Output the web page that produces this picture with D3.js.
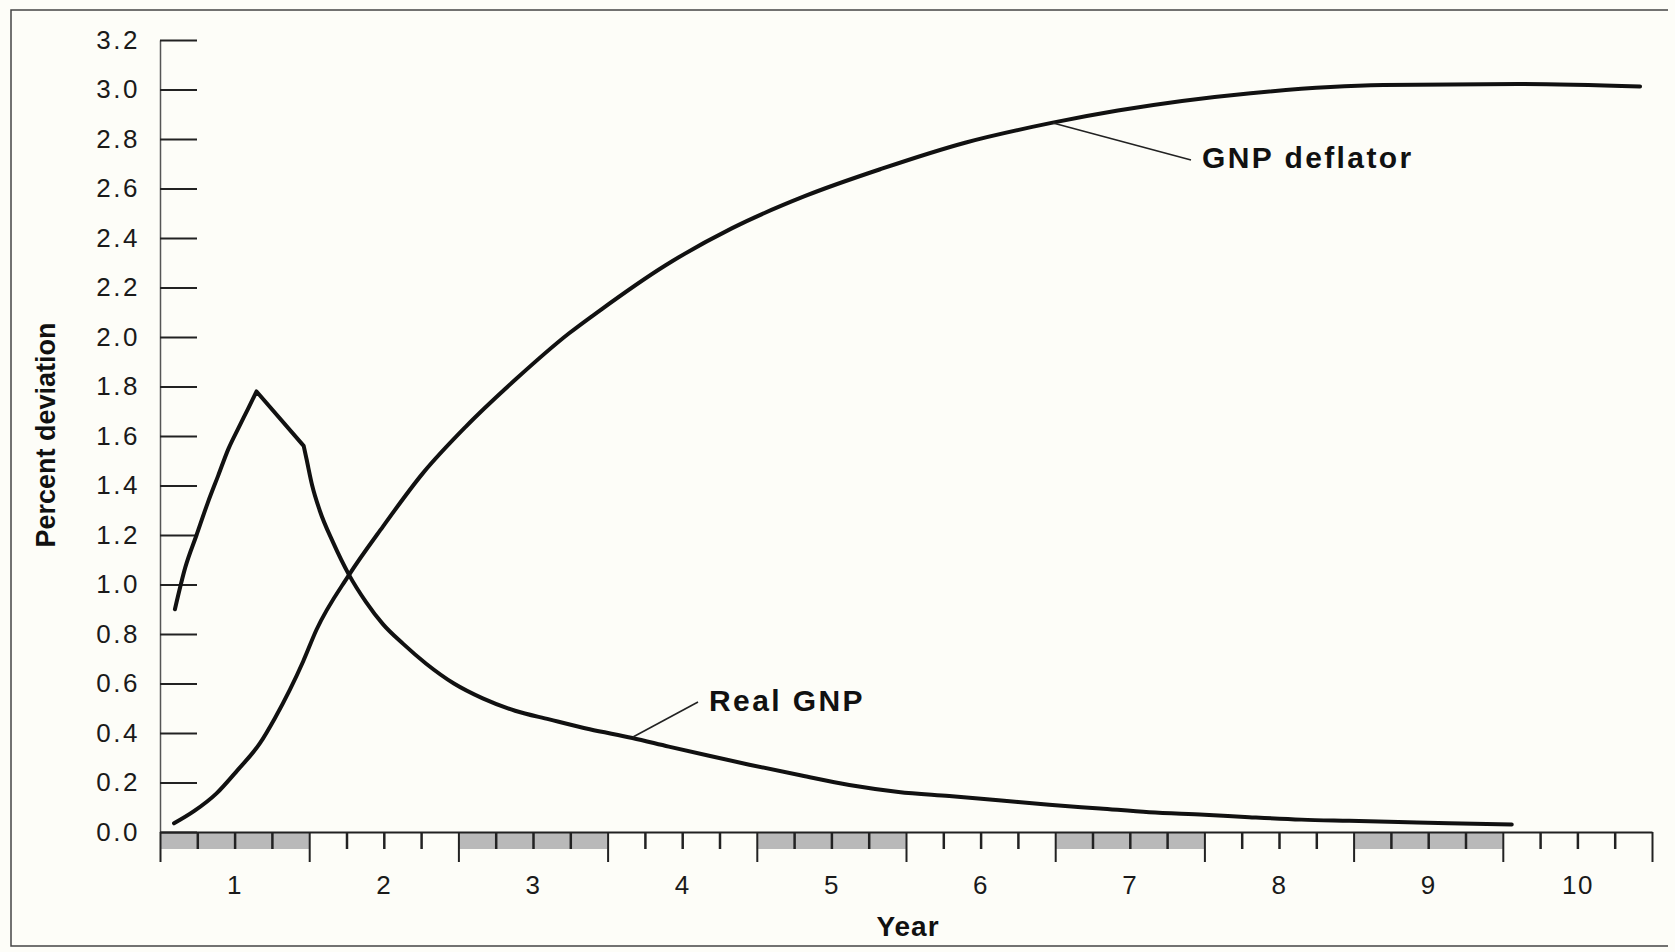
<!DOCTYPE html>
<html>
<head>
    <meta charset="UTF-8">
    <title>Real GNP and GNP deflator</title>
    <script src="https://d3js.org/d3.v7.min.js"></script>
    <style>
        body { margin: 0; padding: 0; background: #fdfdf8; }
        svg { display: block; font-family: "Liberation Sans", Arial, Helvetica, sans-serif; }
        .tick text { fill: #1a1a1a; }
        .curve { fill: none; stroke: #111; stroke-width: 4px; stroke-linejoin: round; stroke-linecap: round; }
        .leader { stroke: #222; stroke-width: 1.6px; }
        .label { font-weight: bold; font-size: 30px; letter-spacing: 2.4px; fill: #111; }
        .title { font-weight: bold; fill: #111; }
    </style>
</head>
<body>
    <svg id="chart" width="1675" height="952"></svg>
    <script>
        // 数据
        const yTicks = [0.0, 0.2, 0.4, 0.6, 0.8, 1.0, 1.2, 1.4, 1.6, 1.8, 2.0, 2.2, 2.4, 2.6, 2.8, 3.0, 3.2];
        const years = [1, 2, 3, 4, 5, 6, 7, 8, 9, 10];
        const shadedYears = [1, 3, 5, 7, 9];

        // Real GNP：时间（年）与偏离百分比
        const gnpT = [0.10, 0.17, 0.245, 0.32, 0.39, 0.46, 0.524, 0.59, 0.647, 0.963, 0.981, 1.02, 1.07, 1.16, 1.266, 1.38, 1.494, 1.63,
                      1.784, 1.97, 2.163, 2.38, 2.609, 2.88, 3.166, 3.41, 3.68, 3.95, 4.3, 4.62, 4.95, 5.29, 5.62, 5.96, 6.3, 6.63,
                      7.0, 7.3, 7.65, 7.97, 8.3, 8.64, 9.06];
        const gnpV = [0.90, 1.07, 1.20, 1.33, 1.44, 1.55, 1.63, 1.71, 1.78, 1.56, 1.51, 1.40, 1.30, 1.17, 1.04, 0.93, 0.84, 0.76,
                      0.68, 0.60, 0.54, 0.49, 0.455, 0.415, 0.38, 0.345, 0.308, 0.272, 0.228, 0.19, 0.162, 0.145, 0.128, 0.11, 0.095, 0.08,
                      0.07, 0.06, 0.05, 0.045, 0.04, 0.035, 0.03];
        const gnpPeak = 8, gnpKink = 9;   // 峰值与拐点的下标

        // GNP deflator
        const deflT = [0.094, 0.23, 0.379, 0.52, 0.669, 0.77, 0.87, 0.96, 1.048, 1.266, 1.494, 1.761, 2.05, 2.386, 2.742, 2.943,
                       3.389, 3.835, 4.325, 4.838, 5.396, 5.975, 6.42, 7.31, 8.2, 9.1, 9.92];
        const deflV = [0.035, 0.085, 0.156, 0.25, 0.358, 0.46, 0.574, 0.69, 0.816, 1.038, 1.234, 1.449, 1.638, 1.83, 2.015, 2.105,
                       2.29, 2.44, 2.57, 2.68, 2.785, 2.865, 2.915, 2.985, 3.018, 3.022, 3.012];

        const svg = d3.select("#chart");

        // 外框
        svg.append("path")
            .attr("d", "M1668,10 H11 V946 H1668")
            .attr("fill", "none")
            .attr("stroke", "#444")
            .attr("stroke-width", 1.5);

        const x = d3.scaleLinear().domain([0, 10]).range([160, 1652]);
        const y = d3.scaleLinear().domain([0, 3.2]).range([832, 40]);

        // 阴影年份
        svg.append("g").selectAll("rect")
            .data(shadedYears)
            .join("rect")
            .attr("x", d => x(d - 1))
            .attr("y", y(0))
            .attr("width", d => x(d) - x(d - 1))
            .attr("height", 17)
            .attr("fill", "#b9b9b9");

        // Y 轴
        const yAxis = svg.append("g")
            .attr("transform", `translate(${x(0)},0)`)
            .call(d3.axisLeft(y).tickValues(yTicks).tickFormat(d3.format(".1f"))
                .tickSize(-37).tickSizeOuter(0).tickPadding(20));
        yAxis.select(".domain").attr("stroke", "#555").attr("stroke-width", 1.5);
        yAxis.selectAll(".tick line").attr("stroke", "#222").attr("stroke-width", 2);
        yAxis.selectAll(".tick text")
            .attr("font-size", 26)
            .attr("letter-spacing", "2.5px")
            .attr("font-family", "Liberation Sans, Arial, sans-serif");

        // X 轴：季度小刻度
        const quarters = d3.range(0, 40).filter(q => q % 4 !== 0).map(q => q / 4);
        const xMinor = svg.append("g")
            .attr("transform", `translate(0,${y(0)})`)
            .call(d3.axisBottom(x).tickValues(quarters).tickSize(17).tickFormat(""));
        xMinor.select(".domain").remove();
        xMinor.selectAll(".tick line").attr("stroke", "#222").attr("stroke-width", 2.5);

        // X 轴：年份大刻度
        const xMajor = svg.append("g")
            .attr("transform", `translate(0,${y(0)})`)
            .call(d3.axisBottom(x).tickValues(d3.range(0, 11)).tickSize(30).tickSizeOuter(0).tickFormat(""));
        xMajor.select(".domain").attr("stroke", "#222").attr("stroke-width", 2);
        xMajor.selectAll(".tick line").attr("stroke", "#222").attr("stroke-width", 2);

        // X 轴：年份标签
        const xLabels = svg.append("g")
            .attr("transform", `translate(0,${y(0)})`)
            .call(d3.axisBottom(x).tickValues(years.map(d => d - 0.5)).tickSize(0).tickPadding(44)
                .tickFormat(d => d + 0.5));
        xLabels.select(".domain").remove();
        xLabels.selectAll(".tick text")
            .attr("font-size", 26)
            .attr("letter-spacing", "1.5px")
            .attr("font-family", "Liberation Sans, Arial, sans-serif");

        // 曲线
        const gnp = gnpT.map((t, i) => ({ t: t, v: gnpV[i] }));
        const defl = deflT.map((t, i) => ({ t: t, v: deflV[i] }));
        const smooth = d3.line().x(d => x(d.t)).y(d => y(d.v)).curve(d3.curveMonotoneX);
        const straight = d3.line().x(d => x(d.t)).y(d => y(d.v));

        svg.append("path")
            .datum(defl)
            .attr("class", "curve")
            .attr("d", smooth);

        // Real GNP：上升段平滑，峰值到拐点为直线，之后平滑下降
        svg.append("path")
            .attr("class", "curve")
            .attr("d", smooth(gnp.slice(0, gnpPeak + 1)) + straight(gnp.slice(gnpPeak, gnpKink + 1)).replace(/^M/, "L") +
                smooth(gnp.slice(gnpKink)).replace(/^M[^LC]*/, ""));

        // 标注
        svg.append("line").attr("class", "leader")
            .attr("x1", 633).attr("y1", 737).attr("x2", 698).attr("y2", 702);
        svg.append("text").attr("class", "label")
            .attr("x", 709).attr("y", 711)
            .text("Real GNP");

        svg.append("line").attr("class", "leader")
            .attr("x1", 1053).attr("y1", 123).attr("x2", 1191).attr("y2", 160);
        svg.append("text").attr("class", "label")
            .attr("x", 1202).attr("y", 168)
            .text("GNP deflator");

        // 轴标题
        svg.append("text").attr("class", "title")
            .attr("text-anchor", "middle")
            .attr("font-size", 27)
            .attr("transform", "translate(55,435) rotate(-90)")
            .text("Percent deviation");

        svg.append("text").attr("class", "title")
            .attr("text-anchor", "middle")
            .attr("font-size", 28)
            .attr("letter-spacing", "1px")
            .attr("x", 908).attr("y", 936)
            .text("Year");
    </script>
</body>
</html>
